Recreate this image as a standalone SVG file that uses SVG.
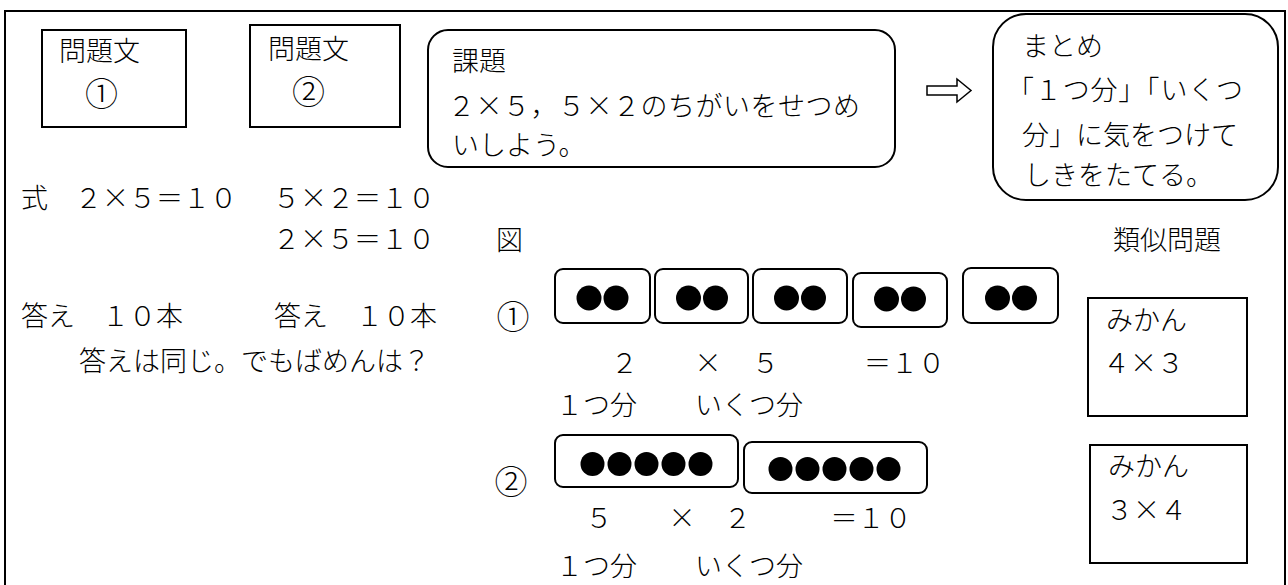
<svg xmlns="http://www.w3.org/2000/svg" width="1288" height="585" viewBox="0 0 1288 585">
<style>
  text { font-family: "Noto Sans CJK JP", "Liberation Serif", sans-serif; font-size: 27px; font-weight: 300; fill: #000; }
  .circ { font-size: 33px; }
  .box { fill: #fff; stroke: #000; stroke-width: 2; }
  .grp { fill: #fff; stroke: #000; stroke-width: 2; }
  .dot { fill: #000; }
</style>
<rect x="0" y="0" width="1288" height="585" fill="#fff"/>
<rect id="frame" x="5" y="11" width="1280" height="600" fill="none" stroke="#000" stroke-width="2"/>

<g id="mondai1">
  <rect class="box" x="42" y="30" width="144" height="97"/>
  <text x="59" y="61">問題文</text>
  <text class="circ" x="85" y="106">①</text>
</g>
<g id="mondai2">
  <rect class="box" x="250" y="25" width="150" height="102"/>
  <text x="268" y="59">問題文</text>
  <text class="circ" x="292" y="104">②</text>
</g>
<g id="kadai">
  <rect class="box" x="428" y="30" width="467" height="137" rx="20"/>
  <text x="452" y="71">課題</text>
  <text x="448" y="116" textLength="412" lengthAdjust="spacing">２×５，５×２のちがいをせつめ</text>
  <text x="452" y="155">いしよう。</text>
</g>
<g id="matome">
  <rect class="box" x="993" y="14" width="285" height="186" rx="33"/>
  <text x="1022" y="56">まとめ</text>
  <text x="1007" y="100" textLength="236" lengthAdjust="spacing">「１つ分」「いくつ</text>
  <text x="1022" y="145">分」に気をつけて</text>
  <text x="1024" y="185">しきをたてる。</text>
</g>

<g id="connectors">
  <polygon points="927,86 957,86 957,79 971,90.5 957,102 957,95 927,95" fill="#fff" stroke="#000" stroke-width="1.5" stroke-linejoin="miter"/>
</g>

<g id="shiki">
  <text x="21" y="208">式</text>
  <text x="75" y="208">２×５＝１０</text>
  <text x="273" y="208">５×２＝１０</text>
  <text x="273" y="249">２×５＝１０</text>
  <text x="21" y="326">答え</text>
  <text x="102" y="326">１０本</text>
  <text x="274" y="326">答え</text>
  <text x="356" y="326">１０本</text>
  <text x="79" y="371">答えは同じ。でもばめんは？</text>
</g>

<g id="zu">
  <text x="496" y="250">図</text>
  <text class="circ" x="496.5" y="328.5">①</text>
  <text class="circ" x="494.5" y="494">②</text>
</g>

<g id="zu1">
  <rect class="grp" x="555" y="269" width="95" height="54" rx="8"/>
  <circle class="dot" cx="589" cy="298" r="12.5"/>
  <circle class="dot" cx="616" cy="298" r="12.5"/>
  <rect class="grp" x="655" y="269" width="93" height="54" rx="8"/>
  <circle class="dot" cx="688.5" cy="298" r="12.5"/>
  <circle class="dot" cx="715.5" cy="298" r="12.5"/>
  <rect class="grp" x="753" y="269" width="94" height="54" rx="8"/>
  <circle class="dot" cx="786.5" cy="298" r="12.5"/>
  <circle class="dot" cx="813.5" cy="298" r="12.5"/>
  <rect class="grp" x="853" y="273" width="94" height="54" rx="8"/>
  <circle class="dot" cx="886.5" cy="299" r="12.5"/>
  <circle class="dot" cx="913.5" cy="299" r="12.5"/>
  <rect class="grp" x="963" y="268" width="95" height="55" rx="8"/>
  <circle class="dot" cx="997.5" cy="298" r="12.5"/>
  <circle class="dot" cx="1024.5" cy="298" r="12.5"/>
  <text x="611" y="373">２</text>
  <text x="694.5" y="373">×</text>
  <text x="752" y="373">５</text>
  <text x="864" y="373">＝１０</text>
  <text x="556" y="415">１つ分</text>
  <text x="695" y="415">いくつ分</text>
</g>

<g id="zu2">
  <rect class="grp" x="555" y="435" width="183" height="52" rx="8"/>
  <circle class="dot" cx="592.5" cy="464" r="12"/>
  <circle class="dot" cx="619.5" cy="464" r="12"/>
  <circle class="dot" cx="646.5" cy="464" r="12"/>
  <circle class="dot" cx="673.5" cy="464" r="12"/>
  <circle class="dot" cx="700.5" cy="464" r="12"/>
  <rect class="grp" x="744" y="442" width="183" height="51" rx="8"/>
  <circle class="dot" cx="780.5" cy="469" r="12"/>
  <circle class="dot" cx="807.5" cy="469" r="12"/>
  <circle class="dot" cx="834.5" cy="469" r="12"/>
  <circle class="dot" cx="861.5" cy="469" r="12"/>
  <circle class="dot" cx="888.5" cy="469" r="12"/>
  <text x="585.5" y="528">５</text>
  <text x="668.5" y="528">×</text>
  <text x="724" y="528">２</text>
  <text x="830.5" y="528">＝１０</text>
  <text x="556" y="576">１つ分</text>
  <text x="695" y="576">いくつ分</text>
</g>

<g id="ruiji">
  <text x="1113" y="250">類似問題</text>
</g>
<g id="ruiji1">
  <rect class="box" x="1088" y="298" width="159" height="118"/>
  <text x="1106" y="330">みかん</text>
  <text x="1103" y="373">４×３</text>
</g>
<g id="ruiji2">
  <rect class="box" x="1090" y="445" width="157" height="118"/>
  <text x="1108" y="476">みかん</text>
  <text x="1106" y="520">３×４</text>
</g>
</svg>
